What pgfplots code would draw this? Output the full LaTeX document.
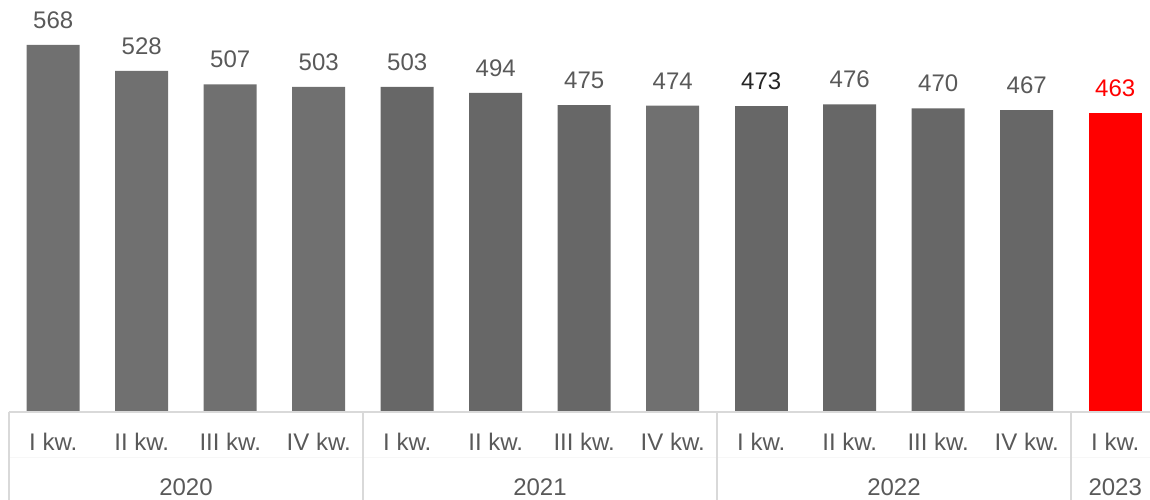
\documentclass[border=0pt]{standalone}
\usepackage{pgfplots}
\pgfplotsset{compat=1.18}
\usepackage{fontspec}
\setmainfont{Liberation Sans}
\definecolor{barA}{HTML}{707070}
\definecolor{barB}{HTML}{676767}
\definecolor{lab}{HTML}{595959}
\definecolor{labdark}{HTML}{262626}
\definecolor{sep}{HTML}{D9D9D9}
\definecolor{sepfaint}{HTML}{F7F7F7}
\newcommand{\fnt}{\fontsize{24}{28}\selectfont}
\begin{document}
\begin{tikzpicture}
\begin{axis}[
  at={(9pt,88pt)}, anchor=south west,
  scale only axis, width=1141pt, height=412pt,
  xmin=-0.5, xmax=12.393, ymin=0, ymax=637.6,
  axis line style={draw=none}, xtick=\empty, ytick=\empty,
  clip=false,
  /pgf/number format/assume math mode=true,
  ybar, bar width=53pt, bar shift=0pt,
  nodes near coords,
  every node near coord/.append style={font=\fnt, anchor=base, inner sep=0pt, yshift=16.5pt},
]
\addplot[fill=barA, draw=none, nodes near coords style={text=lab}] coordinates {(0,568) (1,528) (2,507) (3,503) (7,474)};
\addplot[fill=barB, draw=none, nodes near coords style={text=lab}] coordinates {(4,503) (5,494) (6,475) (9,476) (10,470) (11,467)};
\addplot[fill=barB, draw=none, nodes near coords style={text=labdark}] coordinates {(8,473)};
\addplot[fill=red, draw=none, nodes near coords style={text=red}] coordinates {(12,463)};
% table lines
\draw[sepfaint, line width=1pt] ([yshift=-45pt]axis cs:-0.5,0) -- ([yshift=-45pt]axis cs:12.393,0);
\draw[sep, line width=2pt] (axis cs:-0.5,0) -- (axis cs:12.393,0);
\draw[sep, line width=1.5pt] (axis cs:-0.5,0) -- ([yshift=-90pt]axis cs:-0.5,0);
\draw[sep, line width=1.5pt] (axis cs:3.5,0) -- ([yshift=-90pt]axis cs:3.5,0);
\draw[sep, line width=1.5pt] (axis cs:7.5,0) -- ([yshift=-90pt]axis cs:7.5,0);
\draw[sep, line width=1.5pt] (axis cs:11.5,0) -- ([yshift=-90pt]axis cs:11.5,0);
% tick labels
\begin{scope}[every node/.style={font=\fnt, text=lab, anchor=base, inner sep=0pt}]
\node at ([yshift=-38pt]axis cs:0,0) {I kw.};
\node at ([yshift=-38pt]axis cs:1,0) {II kw.};
\node at ([yshift=-38pt]axis cs:2,0) {III kw.};
\node at ([yshift=-38pt]axis cs:3,0) {IV kw.};
\node at ([yshift=-38pt]axis cs:4,0) {I kw.};
\node at ([yshift=-38pt]axis cs:5,0) {II kw.};
\node at ([yshift=-38pt]axis cs:6,0) {III kw.};
\node at ([yshift=-38pt]axis cs:7,0) {IV kw.};
\node at ([yshift=-38pt]axis cs:8,0) {I kw.};
\node at ([yshift=-38pt]axis cs:9,0) {II kw.};
\node at ([yshift=-38pt]axis cs:10,0) {III kw.};
\node at ([yshift=-38pt]axis cs:11,0) {IV kw.};
\node at ([yshift=-38pt]axis cs:12,0) {I kw.};
\node at ([yshift=-83pt]axis cs:1.5,0) {2020};
\node at ([yshift=-83pt]axis cs:5.5,0) {2021};
\node at ([yshift=-83pt]axis cs:9.5,0) {2022};
\node at ([yshift=-83pt]axis cs:12,0) {2023};
\end{scope}
\end{axis}
\pgfresetboundingbox
\path (0,0) rectangle (1150pt,500pt);
\end{tikzpicture}
\end{document}
